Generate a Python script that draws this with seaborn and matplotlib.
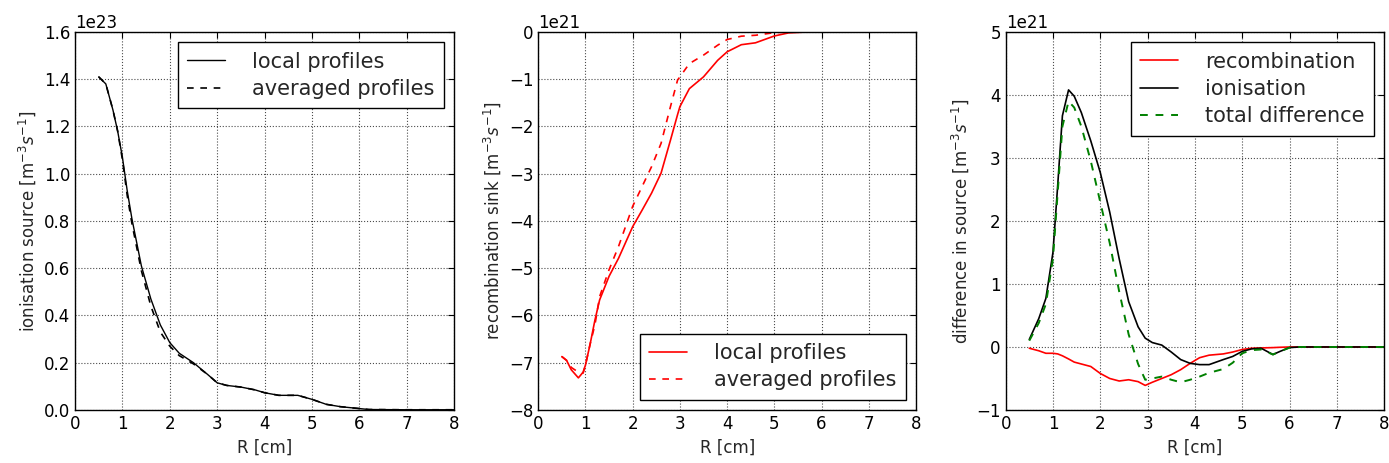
import numpy as np
import pandas as pd
import seaborn as sns
import matplotlib.pyplot as plt

# panel 1: ionisation source
r_ion = [0.5, 0.65, 0.8, 0.9, 1.0, 1.1, 1.2, 1.4, 1.6, 1.8, 2.0, 2.2, 2.5, 2.8, 3.0, 3.2, 3.5,
         3.8, 4.0, 4.3, 4.7, 5.0, 5.3, 5.6, 6.0, 6.2, 7.0, 8.0]
ion_local = [1.41, 1.38, 1.27, 1.18, 1.07, 0.93, 0.81, 0.61, 0.47, 0.36, 0.285, 0.24, 0.20, 0.15,
             0.115, 0.104, 0.097, 0.085, 0.073, 0.062, 0.062, 0.045, 0.024, 0.014, 0.006, 0.002,
             0.001, 0.001]
ion_avg = [1.41, 1.38, 1.27, 1.18, 1.06, 0.91, 0.79, 0.59, 0.44, 0.33, 0.27, 0.23, 0.195, 0.15,
           0.115, 0.104, 0.097, 0.085, 0.073, 0.062, 0.062, 0.045, 0.024, 0.014, 0.006, 0.002,
           0.001, 0.001]

# panel 2: recombination sink
r_rec = [0.5, 0.6, 0.7, 0.85, 0.95, 1.0, 1.1, 1.2, 1.3, 1.5, 1.7, 2.0, 2.2, 2.4, 2.6, 2.8, 2.95,
         3.0, 3.2, 3.5, 3.8, 4.0, 4.3, 4.6, 5.0, 5.3, 5.6, 6.0]
rec_local = [-6.87, -6.95, -7.15, -7.32, -7.2, -7.05, -6.6, -6.1, -5.67, -5.17, -4.79, -4.12,
             -3.77, -3.41, -2.99, -2.29, -1.75, -1.58, -1.2, -0.95, -0.6, -0.42, -0.27, -0.23,
             -0.085, -0.02, -0.005, 0.0]
rec_avg = [-6.87, -6.95, -7.1, -7.2, -7.22, -7.05, -6.6, -6.2, -5.6, -5.03, -4.54, -3.69, -3.27,
           -2.85, -2.36, -1.58, -1.02, -0.95, -0.67, -0.49, -0.28, -0.16, -0.09, -0.07, -0.015,
           0.0, 0.0, 0.0]

# panel 3: difference in source
r_diff = [0.5, 0.7, 0.85, 1.0, 1.1, 1.2, 1.33, 1.45, 1.6, 1.8, 2.0, 2.2, 2.4, 2.6, 2.8, 2.95,
          3.1, 3.3, 3.5, 3.7, 3.9, 4.1, 4.3, 4.6, 4.8, 5.0, 5.2, 5.4, 5.65, 5.8, 6.0, 6.2, 7.0, 8.0]
d_rec = [-0.02, -0.06, -0.1, -0.1, -0.11, -0.14, -0.19, -0.24, -0.27, -0.31, -0.42, -0.5, -0.54,
         -0.52, -0.55, -0.61, -0.56, -0.5, -0.44, -0.36, -0.26, -0.17, -0.13, -0.11, -0.08, -0.04,
         -0.02, -0.015, -0.01, -0.005, 0.0, 0.0, 0.0, 0.0]
d_ion = [0.12, 0.45, 0.77, 1.5, 2.56, 3.67, 4.08, 3.98, 3.72, 3.27, 2.77, 2.14, 1.4, 0.72, 0.32,
         0.14, 0.07, 0.03, -0.08, -0.2, -0.26, -0.28, -0.28, -0.2, -0.15, -0.07, -0.03, -0.02,
         -0.12, -0.07, -0.01, 0.0, 0.0, 0.0]
d_tot = [0.1, 0.38, 0.68, 1.4, 2.45, 3.5, 3.9, 3.8, 3.5, 2.95, 2.3, 1.65, 0.88, 0.2, -0.27,
         -0.52, -0.5, -0.47, -0.52, -0.56, -0.52, -0.47, -0.41, -0.35, -0.25, -0.1, -0.05, -0.04,
         -0.12, -0.07, -0.01, 0.0, 0.0, 0.0]

sns.set_style("white")
plt.rcParams.update({
    "font.family": ["DejaVu Sans"],
    "xtick.direction": "in", "ytick.direction": "in",
    "xtick.top": True, "ytick.right": True,
    "xtick.major.size": 4, "ytick.major.size": 4,
    "xtick.labelsize": 12, "ytick.labelsize": 12,
    "axes.labelsize": 12, "axes.edgecolor": "black",
    "xtick.color": "black", "ytick.color": "black",
    "axes.formatter.use_mathtext": False,
})

dash = (0, (4, 4))

fig = plt.figure(figsize=(13.89, 4.63), dpi=100)
ax1 = fig.add_axes([0.054, 0.1145, 0.273, 0.8165])
ax2 = fig.add_axes([0.3875, 0.1145, 0.272, 0.8165])
ax3 = fig.add_axes([0.724, 0.1145, 0.2725, 0.8165])

df1 = pd.DataFrame({"R": r_ion, "local": np.array(ion_local) * 1e23, "avg": np.array(ion_avg) * 1e23})
sns.lineplot(data=df1, x="R", y="local", ax=ax1, color="black", lw=1.0, label="local profiles")
sns.lineplot(data=df1, x="R", y="avg", ax=ax1, color="black", lw=1.2, linestyle=dash,
             label="averaged profiles")
ax1.set_ylim(0, 1.6e23)
ax1.set_yticks(np.arange(0, 1.61, 0.2) * 1e23)
ax1.set_ylabel("ionisation source [m$^{-3}s^{-1}$]")
ax1.legend(loc="upper right")

df2 = pd.DataFrame({"R": r_rec, "local": np.array(rec_local) * 1e21, "avg": np.array(rec_avg) * 1e21})
sns.lineplot(data=df2, x="R", y="local", ax=ax2, color="red", lw=1.2, label="local profiles")
sns.lineplot(data=df2, x="R", y="avg", ax=ax2, color="red", lw=1.2, linestyle=dash,
             label="averaged profiles")
ax2.set_ylim(-8e21, 0)
ax2.set_yticks(np.arange(-8, 0.1, 1) * 1e21)
ax2.set_ylabel("recombination sink [m$^{-3}s^{-1}$]")
ax2.legend(loc="lower right")

df3 = pd.DataFrame({"R": r_diff, "rec": np.array(d_rec) * 1e21, "ion": np.array(d_ion) * 1e21,
                    "tot": np.array(d_tot) * 1e21})
sns.lineplot(data=df3, x="R", y="rec", ax=ax3, color="red", lw=1.2, label="recombination")
sns.lineplot(data=df3, x="R", y="ion", ax=ax3, color="black", lw=1.2, label="ionisation")
sns.lineplot(data=df3, x="R", y="tot", ax=ax3, color="green", lw=1.4, linestyle=dash,
             label="total difference")
ax3.set_ylim(-1e21, 5e21)
ax3.set_yticks(np.arange(-1, 5.1, 1) * 1e21)
ax3.set_ylabel("difference in source [m$^{-3}s^{-1}$]")
ax3.legend(loc="upper right")

for ax in (ax1, ax2, ax3):
    ax.set_xlim(0, 8)
    ax.set_xticks(range(0, 9))
    ax.set_xlabel("R [cm]")
    ax.grid(True, linestyle=":", color="black", lw=0.8, alpha=0.7)
    ax.yaxis.get_offset_text().set_fontsize(12)
    handles, labels = ax.get_legend_handles_labels()
    leg = ax.legend(handles, labels, loc=ax.get_legend()._loc, fontsize=15,
                    handletextpad=1.3, handlelength=1.8, borderpad=0.45, labelspacing=0.35)
    leg.get_frame().set_edgecolor("black")
    leg.get_frame().set_boxstyle("square", pad=0)
    leg.get_frame().set_alpha(1)
    for s in ax.spines.values():
        s.set_linewidth(1.0)

fig.savefig("out.png", dpi=100)
